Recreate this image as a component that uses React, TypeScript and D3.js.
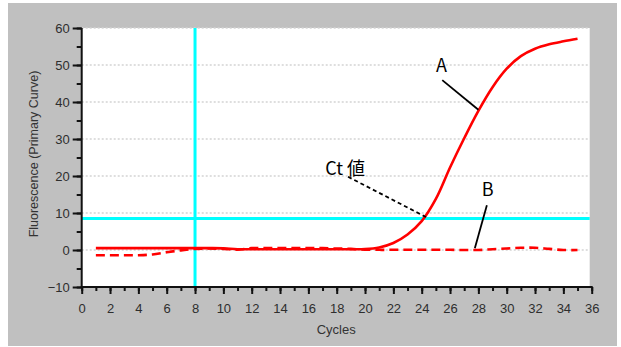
import React, { useEffect, useRef } from 'react'
import * as d3 from 'd3'

// cycles 1..35
const cycles = d3.range(1, 36)
const curveA = [
  0.5, 0.5, 0.5, 0.5, 0.5, 0.5, 0.5, 0.5, 0.5, 0.45,
  0.2, 0.2, 0.2, 0.2, 0.2, 0.2, 0.2, 0.2, 0.2, 0.25,
  0.7, 1.9, 4.2, 7.8, 13.8, 22.3, 30.2, 37.6, 44.0, 49.0,
  52.4, 54.4, 55.6, 56.4, 57.1,
]
const curveB = [
  -1.4, -1.4, -1.4, -1.4, -1.2, -0.6, -0.1, 0.3, 0.4, 0.3,
  0.1, 0.5, 0.5, 0.5, 0.5, 0.5, 0.5, 0.4, 0.3, 0.1,
  0.05, 0.05, 0.05, 0.05, 0.05, 0.05, 0.0, 0.0, 0.2, 0.4,
  0.6, 0.6, 0.3, 0.0, 0.0,
]
const threshold = 8.5
const baselineEnd = 8
const yMajor = d3.range(-10, 61, 10)
const yMinor = d3.range(-10, 61, 5)
const xMajor = d3.range(0, 37, 2)
const xMinor = d3.range(0, 37, 1)

// annotation labels and leader lines, in data units
const labels = [
  { text: 'A', c: 25.4, v: 48.2, anchor: 'middle' },
  { text: 'Ct 値', c: 17.2, v: 20.2, anchor: 'start' },
  { text: 'B', c: 28.65, v: 14.6, anchor: 'middle' },
]
const leaders = [
  { c1: 25.45, v1: 45.9, c2: 28.0, v2: 37.9, dash: null },
  { c1: 18.8, v1: 19.8, c2: 24.3, v2: 8.9, dash: '4,3' },
  { c1: 28.6, v1: 12.1, c2: 27.75, v2: 0.5, dash: null },
]

export default function App() {
  const ref = useRef<SVGSVGElement>(null)

  useEffect(() => {
    const svg = d3.select(ref.current)
    svg.selectAll('*').remove()

    const x = d3.scaleLinear().domain([0, 36]).range([81.7, 591.7])
    const y = d3.scaleLinear().domain([-10, 60]).range([287, 28])

    svg.append('rect')
      .attr('x', 8).attr('y', 3).attr('width', 609).attr('height', 343)
      .attr('fill', '#c0c0c0')

    svg.append('rect')
      .attr('x', x(0)).attr('y', y(60))
      .attr('width', x(36) - x(0) - 2).attr('height', y(-10) - y(60))
      .attr('fill', '#ffffff')

    // dotted grid
    svg.append('g').selectAll('line')
      .data(yMajor.filter(d => d > -10))
      .enter().append('line')
      .attr('x1', x(0)).attr('x2', x(36) - 2)
      .attr('y1', d => y(d)).attr('y2', d => y(d))
      .attr('stroke', '#d4d4d4').attr('stroke-width', 1.5)
      .attr('stroke-dasharray', '2,2')

    // cyan threshold + baseline end
    svg.append('line')
      .attr('x1', x(0)).attr('x2', x(36) - 2)
      .attr('y1', y(threshold)).attr('y2', y(threshold))
      .attr('stroke', '#00ffff').attr('stroke-width', 3)
    svg.append('line')
      .attr('x1', x(baselineEnd)).attr('x2', x(baselineEnd))
      .attr('y1', y(60)).attr('y2', y(-10))
      .attr('stroke', '#00ffff').attr('stroke-width', 3)

    const line = d3.line<number>()
      .x((d, i) => x(cycles[i]))
      .y(d => y(d))
      .curve(d3.curveCatmullRom.alpha(0.5))

    svg.append('path')
      .attr('d', line(curveB))
      .attr('fill', 'none').attr('stroke', '#ff0000')
      .attr('stroke-width', 2.6).attr('stroke-dasharray', '9,5')

    svg.append('path')
      .attr('d', line(curveA))
      .attr('fill', 'none').attr('stroke', '#ff0000')
      .attr('stroke-width', 2.6)

    // axes
    const styleAxis = (g: any) => {
      g.select('.domain').remove()
      g.selectAll('line').attr('stroke', '#111').attr('stroke-width', 2)
      g.selectAll('text')
        .attr('fill', '#2e2e2e')
        .style('font-family', '"Liberation Sans", Arial, sans-serif')
        .style('font-size', '13px')
    }

    svg.append('g')
      .attr('transform', `translate(${x(0)},0)`)
      .call(d3.axisLeft(y).tickValues(yMinor).tickSize(5).tickFormat(() => ''))
      .call(styleAxis)
    svg.append('g')
      .attr('transform', `translate(${x(0)},0)`)
      .call(d3.axisLeft(y).tickValues(yMajor).tickSize(9).tickPadding(3))
      .call(styleAxis)

    svg.append('g')
      .attr('transform', `translate(0,${y(-10)})`)
      .call(d3.axisBottom(x).tickValues(xMinor).tickSize(4).tickFormat(() => ''))
      .call(styleAxis)
    svg.append('g')
      .attr('transform', `translate(0,${y(-10)})`)
      .call(d3.axisBottom(x).tickValues(xMajor).tickSize(7).tickPadding(10))
      .call(styleAxis)

    svg.append('line')
      .attr('x1', x(0)).attr('x2', x(0))
      .attr('y1', y(60)).attr('y2', y(-10) + 1)
      .attr('stroke', '#111').attr('stroke-width', 2)
    svg.append('line')
      .attr('x1', x(0) - 1).attr('x2', x(36) + 1)
      .attr('y1', y(-10)).attr('y2', y(-10))
      .attr('stroke', '#111').attr('stroke-width', 2)

    svg.append('text')
      .attr('x', (x(0) + x(36)) / 2 - 0.5).attr('y', 334)
      .attr('text-anchor', 'middle')
      .attr('fill', '#333')
      .style('font-family', '"Liberation Sans", Arial, sans-serif')
      .style('font-size', '13px')
      .text('Cycles')

    svg.append('text')
      .attr('transform', `translate(38,154) rotate(-90)`)
      .attr('text-anchor', 'middle')
      .attr('fill', '#333')
      .style('font-family', '"Liberation Sans", Arial, sans-serif')
      .style('font-size', '12.5px')
      .text('Fluorescence (Primary Curve)')

    // annotations
    svg.append('g').selectAll('line')
      .data(leaders)
      .enter().append('line')
      .attr('x1', d => x(d.c1)).attr('y1', d => y(d.v1))
      .attr('x2', d => x(d.c2)).attr('y2', d => y(d.v2))
      .attr('stroke', '#000').attr('stroke-width', 1.8)
      .attr('stroke-dasharray', d => d.dash)

    svg.append('g').selectAll('text')
      .data(labels)
      .enter().append('text')
      .attr('x', d => x(d.c)).attr('y', d => y(d.v))
      .attr('text-anchor', d => d.anchor)
      .attr('fill', '#000')
      .style('font-family', '"Noto Sans CJK JP", "Noto Sans", sans-serif')
      .style('font-size', '18px')
      .text(d => d.text)
  }, [])

  return (
    <svg ref={ref} width={621} height={347}
      style={{ position: 'absolute', left: 0, top: 0, background: '#fff' }} />
  )
}
